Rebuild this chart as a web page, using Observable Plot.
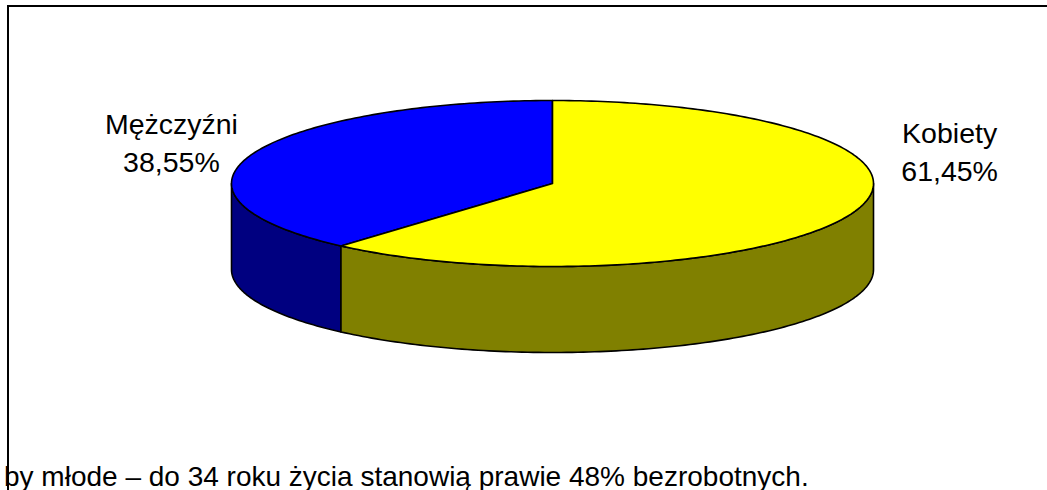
<!DOCTYPE html>
<html><head><meta charset="utf-8">
<script src="https://cdn.jsdelivr.net/npm/d3@7"></script>
<script src="https://cdn.jsdelivr.net/npm/@observablehq/plot@0.6"></script>
<style>
html,body{margin:0;padding:0;background:#fff;width:1047px;height:490px;overflow:hidden;}
#wrap{position:relative;width:1047px;height:490px;}
#chart{position:absolute;left:0;top:0;}
#frame{position:absolute;left:7px;top:5px;width:1100px;height:520px;border-top:2px solid #000;border-left:2px solid #000;}
#caption{position:absolute;left:4px;top:463px;font-size:28px;font-family:Arial,"Liberation Sans",sans-serif;line-height:28px;white-space:nowrap;color:#000;}
</style></head><body>
<div id="wrap"><div id="chart"></div><div id="frame"></div><div id="caption"></div></div>
<script>
// ---- data ----
const categories = ["Mężczyźni", "Kobiety"];
const values = [38.55, 61.45];
const topColors = ["#0000FF", "#FFFF00"];
const sideColors = ["#000080", "#808000"];
const captionText = "by młode – do 34 roku życia stanowią prawie 48% bezrobotnych.";

// ---- geometry derived from values ----
const DEPTH = 86 / 83;           // pie thickness in y units (ellipse radius = 1)
const START = 90;                // 12 o'clock, angles in degrees, counterclockwise
const total = d3.sum(values);
const rad = a => a * Math.PI / 180;
function arc(a, b, off, id, fill) {
  const n = Math.max(2, Math.ceil(Math.abs(b - a)));
  const pts = [];
  for (let k = 0; k <= n; k++) {
    const t = a + (b - a) * k / n;
    pts.push({x: Math.cos(rad(t)), y: Math.sin(rad(t)) - off, id, fill});
  }
  return pts;
}
const slices = [];
let acc = START;
values.forEach((v, i) => {
  const a0 = acc, a1 = acc + v / total * 360;
  slices.push({i, a0, a1, mid: (a0 + a1) / 2});
  acc = a1;
});

const tops = [], sides = [];
slices.forEach(s => {
  const id = "t" + s.i, f = topColors[s.i];
  const c = {x: 0, y: 0, id, fill: f};
  tops.push(c, ...arc(s.a0, s.a1, 0, id, f), c);
  const lo = Math.max(s.a0, 180), hi = Math.min(s.a1, 360);
  if (lo < hi) {
    const sid = "s" + s.i, sf = sideColors[s.i];
    const upper = arc(lo, hi, 0, sid, sf);
    const lower = arc(hi, lo, DEPTH, sid, sf);
    sides.push(...upper, ...lower, upper[0]);
  }
});

const labels = slices.map(s => {
  const m = rad(s.mid);
  return {
    x: Math.cos(m) * 1.295 + 0.025,
    y: 0.46 + 0.15 * Math.sin(m),
    text: categories[s.i] + "\n" + values[s.i].toFixed(2).replace(".", ",") + "%"
  };
});

const font = 'Arial, "Liberation Sans", sans-serif';
const chart = Plot.plot({
  width: 1047,
  height: 490,
  x: {domain: [-1, 1], range: [231, 873], axis: null},
  y: {domain: [-1, 1], range: [266, 100], axis: null},
  color: {type: "identity"},
  style: {background: "none", fontFamily: font},
  marks: [
    Plot.line(sides, {x: "x", y: "y", z: "id", fill: "fill", stroke: "#000", strokeWidth: 1.6, strokeLinejoin: "round"}),
    Plot.line(tops, {x: "x", y: "y", z: "id", fill: "fill", stroke: "#000", strokeWidth: 1.6, strokeLinejoin: "round"}),
    Plot.text(labels, {x: "x", y: "y", text: "text", fontSize: 28.5, lineHeight: 1.34, textAnchor: "middle", lineAnchor: "middle", fill: "#000", fontFamily: font})
  ]
});
document.getElementById("chart").appendChild(chart);
document.getElementById("caption").textContent = captionText;
</script>
</body></html>
